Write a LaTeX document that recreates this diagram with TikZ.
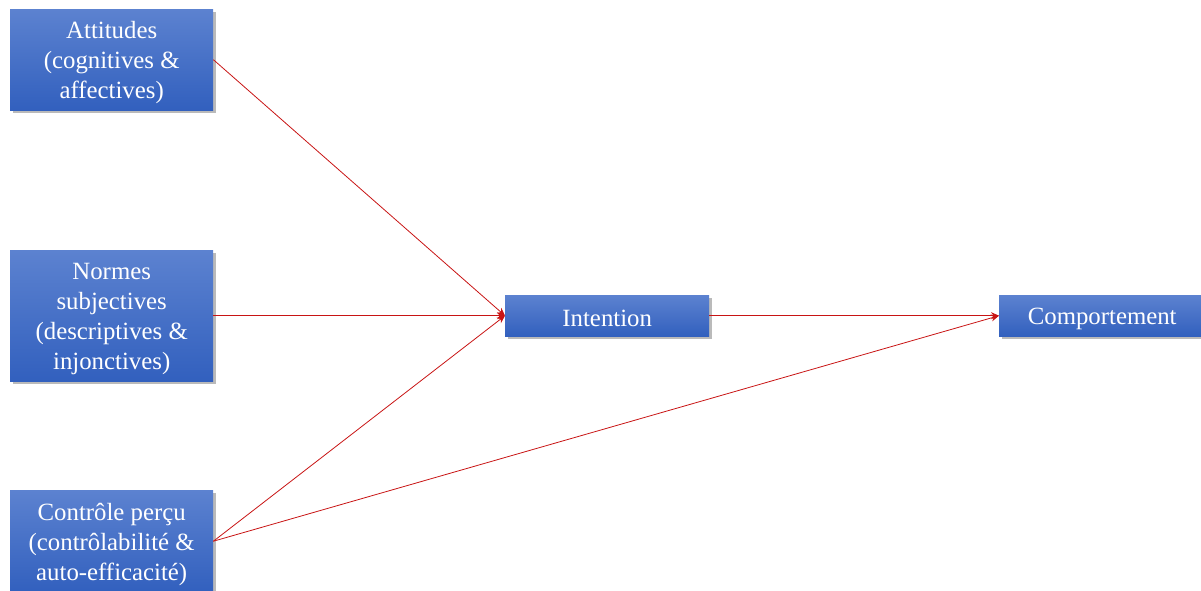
\documentclass[tikz,border=0pt]{standalone}
\usepackage{fontspec}
\setmainfont{Liberation Serif}
\usetikzlibrary{arrows.meta,shadows}
\definecolor{boxtop}{RGB}{92,130,208}
\definecolor{boxbot}{RGB}{50,96,190}
\definecolor{arr}{RGB}{200,20,20}
\tikzset{
  box/.style={rectangle, top color=boxtop, bottom color=boxbot, draw=none,
    inner sep=0pt, anchor=north west,
    drop shadow={shadow xshift=2.5pt, shadow yshift=-2.5pt, fill=black!45, opacity=0.6}},
  boxtext/.style={text=white, align=center, font=\fontsize{24.8}{30}\selectfont,
    inner sep=0pt, yshift=-3pt},
  link/.style={draw=arr, line width=0.8pt, -{Stealth[length=8pt,width=7pt]}}
}
\begin{document}
\begin{tikzpicture}[x=1pt,y=-1pt]
\useasboundingbox (0,0) rectangle (1201,590);
\node[box, minimum width=203pt, minimum height=101pt,
  label={[boxtext]center:{Attitudes\\(cognitives \&\\affectives)}}] (att) at (10,9) {};
\node[box, minimum width=203pt, minimum height=131pt,
  label={[boxtext]center:{Normes\\subjectives\\(descriptives \&\\injonctives)}}] (norm) at (10,250) {};
\node[box, minimum width=203pt, minimum height=102pt,
  label={[boxtext]center:{Contrôle perçu\\(contrôlabilité \&\\auto-efficacité)}}] (ctrl) at (10,490) {};
\node[box, minimum width=204pt, minimum height=41pt,
  label={[boxtext]center:{Intention}}] (int) at (505,295) {};
\node[box, minimum width=206pt, minimum height=41pt,
  label={[boxtext]center:{Comportement}}] (comp) at (999,295) {};
\draw[link] (att.east) -- (int.west);
\draw[link] (norm.east) -- (int.west);
\draw[link] (ctrl.east) -- (int.west);
\draw[link] (int.east) -- (comp.west);
\draw[link] (ctrl.east) -- (comp.west);
\end{tikzpicture}
\end{document}
